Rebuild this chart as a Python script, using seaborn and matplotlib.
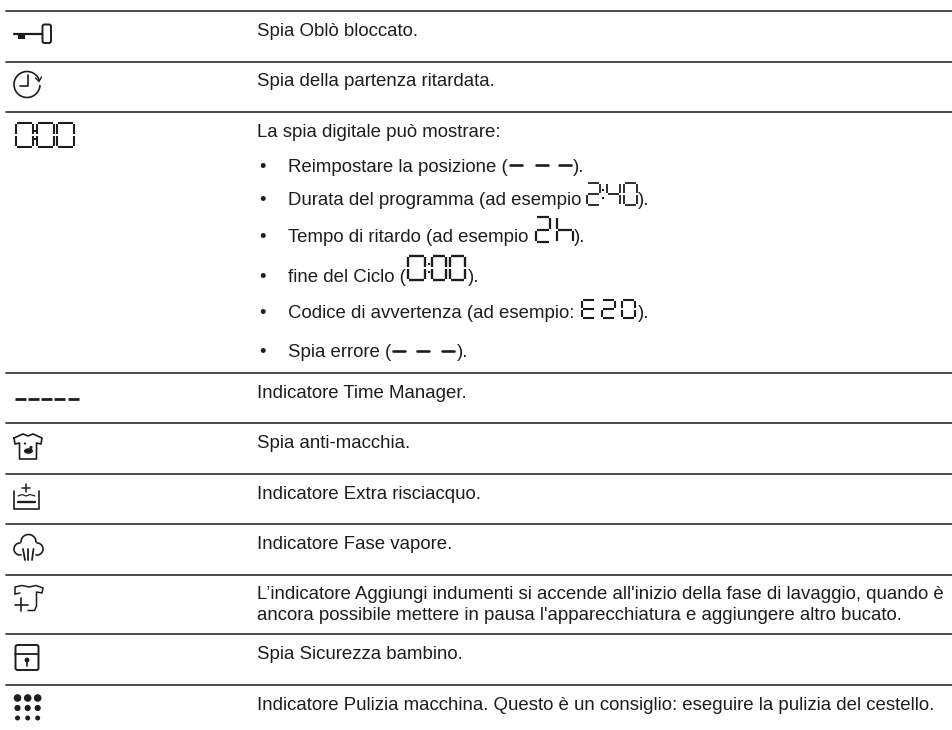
import matplotlib
matplotlib.use('Agg')
import matplotlib.pyplot as plt
from matplotlib.patches import Circle, Ellipse, FancyBboxPatch, Rectangle
import numpy as np
import pandas as pd
import seaborn as sns

# everything is placed in image pixels, the axes run 0..953 and 730..0
WIDTH = 953
HEIGHT = 730
INK = '#1d1d1d'
FONT_SIZE = 13.4

rule_ys = [11, 61.5, 112, 372.7, 423.3, 473.7, 524.3, 575, 634, 685]

row_labels = [
    'Spia Oblò bloccato.',
    'Spia della partenza ritardata.',
    'La spia digitale può mostrare:',
    'Indicatore Time Manager.',
    'Spia anti-macchia.',
    'Indicatore Extra risciacquo.',
    'Indicatore Fase vapore.',
    'L’indicatore Aggiungi indumenti si accende all\'inizio della fase di lavaggio, quando è',
    'ancora possibile mettere in pausa l\'apparecchiatura e aggiungere altro bucato.',
    'Spia Sicurezza bambino.',
    'Indicatore Pulizia macchina. Questo è un consiglio: eseguire la pulizia del cestello.',
]
row_baselines = [36, 86.5, 137, 398, 448, 499, 549, 599, 620, 659, 710]

bullet_labels = [
    'Reimpostare la posizione (',
    'Durata del programma (ad esempio ',
    'Tempo di ritardo (ad esempio ',
    'fine del Ciclo (',
    'Codice di avvertenza (ad esempio: ',
    'Spia errore (',
]
bullet_baselines = [172, 205, 242, 282, 318, 357]
bullet_tail_xs = [573, 638, 574, 468, 638, 457]

SEGMENTS = {
    '0': 'abcdef', '2': 'abged', '4': 'fgbc', 'E': 'afged',
    '-': 'g', 'h': 'fegc',
}


def digit(ax, x, y, w, h, char, lw=1.3, gap=1.0):
    # seven segment glyph with top left corner at x, y, small gaps at the corners
    ends = {
        'a': ((x + gap, y), (x + w - gap, y)),
        'b': ((x + w, y + gap), (x + w, y + h / 2 - gap)),
        'c': ((x + w, y + h / 2 + gap), (x + w, y + h - gap)),
        'd': ((x + gap, y + h), (x + w - gap, y + h)),
        'e': ((x, y + h / 2 + gap), (x, y + h - gap)),
        'f': ((x, y + gap), (x, y + h / 2 - gap)),
        'g': ((x + gap, y + h / 2), (x + w - gap, y + h / 2)),
    }
    for seg in SEGMENTS[char]:
        p, q = ends[seg]
        ax.plot([p[0], q[0]], [p[1], q[1]], color=INK, lw=lw, solid_capstyle='butt')


def colon(ax, x, y, h, lw=1.3):
    for f in (0.32, 0.68):
        ax.plot([x], [y + h * f], 's', color=INK, ms=lw * 1.4, mew=0)


def dashes(ax, lefts, w, y, lw=1.9, cap='round'):
    for left in lefts:
        ax.plot([left, left + w], [y, y], color=INK, lw=lw, solid_capstyle=cap)


def path(ax, pts, lw=1.2, closed=False):
    xs, ys = zip(*(list(pts) + ([pts[0]] if closed else [])))
    ax.plot(xs, ys, color=INK, lw=lw, solid_capstyle='round', solid_joinstyle='round')


def arc(ax, cx, cy, r, a0, a1, lw=1.2):
    # angles in degrees as seen on screen, counter clockwise from the right
    t = np.radians(np.linspace(a0, a1, 60))
    ax.plot(cx + r * np.cos(t), cy - r * np.sin(t), color=INK, lw=lw, solid_capstyle='round')


sns.set_theme(style='white', rc={'axes.facecolor': 'white', 'figure.facecolor': 'white'})
plt.rcParams['font.family'] = ['Liberation Sans', 'DejaVu Sans']

fig = plt.figure(figsize=(WIDTH / 100, HEIGHT / 100), dpi=100)
ax = fig.add_axes([0, 0, 1, 1])

rules = pd.DataFrame({
    'x': [6, 953] * len(rule_ys),
    'y': np.repeat(rule_ys, 2),
    'rule': np.repeat(np.arange(len(rule_ys)), 2),
})
sns.lineplot(data=rules, x='x', y='y', units='rule', estimator=None,
             color='#2e2e2e', lw=1.2, ax=ax, legend=False)

for label, y in zip(row_labels, row_baselines):
    ax.text(257, y, label, fontsize=FONT_SIZE, color=INK, va='baseline', ha='left')
for label, y, tail in zip(bullet_labels, bullet_baselines, bullet_tail_xs):
    ax.text(259, y, '•', fontsize=FONT_SIZE, color=INK, va='baseline', ha='left')
    ax.text(288, y, label, fontsize=FONT_SIZE, color=INK, va='baseline', ha='left')
    ax.text(tail, y, ').', fontsize=FONT_SIZE, color=INK, va='baseline', ha='left')

# key
ax.add_patch(FancyBboxPatch((42.5, 24.5), 8.5, 18.5, boxstyle='round,pad=0,rounding_size=2',
                            fc='none', ec=INK, lw=1.4))
path(ax, [(14, 33.5), (42, 33.5)], lw=1.6)
ax.add_patch(Rectangle((18, 33), 7, 6, fc=INK, ec='none'))

# clock
arc(ax, 27, 84.5, 13, -5, -340)
path(ax, [(28, 75), (28, 86), (20, 86)], lw=1.2)
path(ax, [(35.5, 78), (39, 81.5), (41.5, 77)], lw=1.0)

# digital display icon
for x, ch in zip([16, 37, 57], '000'):
    digit(ax, x, 123, 17, 24, ch, lw=1.5)
colon(ax, 35, 123, 24, lw=1.3)

# time manager
dashes(ax, [15, 28, 41, 54, 68], 11, 398.5, lw=2.0, cap='butt')

# stain shirt
path(ax, [(14, 438), (23, 434), (28, 436), (33, 434), (42, 438), (41, 444), (36.5, 443),
          (36.5, 459), (19.5, 459), (19.5, 443), (15, 444)], closed=True, lw=1.2)
ax.add_patch(Ellipse((28.5, 451), 9, 5.5, fc=INK, ec='none'))
ax.add_patch(Circle((31, 447.5), 1.6, fc=INK, ec='none'))
ax.add_patch(Circle((25, 443.5), 1.1, fc=INK, ec='none'))

# extra rinse
path(ax, [(14.5, 491), (14.5, 509), (39, 509), (39, 491)], lw=1.2)
path(ax, [(22, 488), (30, 488)], lw=1.1)
path(ax, [(26, 484), (26, 492)], lw=1.1)
path(ax, [(18, 496), (22, 494.5), (26, 496), (30, 494.5), (35, 496)], lw=0.9)
path(ax, [(18, 502), (35, 502)], lw=1.7)

# steam
arc(ax, 28.5, 542, 7.5, 180, 0, lw=1.2)
arc(ax, 20, 549, 6, 90, 280, lw=1.2)
arc(ax, 37, 549, 6, 90, -100, lw=1.2)
for top, bottom in [((23, 549), (25, 560)), ((28.5, 549), (28.5, 560)), ((33.5, 549), (32, 560))]:
    path(ax, [top, bottom], lw=1.3)

# add clothes
path(ax, [(15, 594), (15, 587), (22, 585.5), (29, 587), (36, 585.5), (43, 588), (42, 593), (36.5, 592),
          (36.5, 606), (34.5, 610.5), (28, 610.5)], lw=1.1)
path(ax, [(15, 594), (20, 593)], lw=1.1)
path(ax, [(15, 604.5), (28, 604.5)], lw=1.2)
path(ax, [(21.5, 598), (21.5, 611)], lw=1.2)

# child lock
ax.add_patch(FancyBboxPatch((15.5, 645), 23, 25, boxstyle='round,pad=0,rounding_size=2',
                            fc='none', ec=INK, lw=1.4))
path(ax, [(15.5, 653.5), (38.5, 653.5)], lw=1.3)
ax.add_patch(Circle((27, 660), 2.4, fc=INK, ec='none'))
path(ax, [(27, 660), (27, 665.5)], lw=1.2)

# cleaning dots
dot_xs = [17.5, 27.7, 37.7] * 3
dot_ys = np.repeat([698, 708, 718], 3)
dot_sizes = np.repeat([30, 20, 13], 3)
sns.scatterplot(x=dot_xs, y=dot_ys, s=dot_sizes, color=INK, linewidth=0, ax=ax, legend=False)

# inline display glyphs
dashes(ax, [510, 536, 559], 12, 164.5)
digit(ax, 587, 183, 13, 22, '2', lw=1.3)
colon(ax, 603, 183, 22, lw=1.2)
digit(ax, 607, 183, 13, 22, '4', lw=1.3)
digit(ax, 624, 183, 13, 22, '0', lw=1.3)
digit(ax, 536, 217, 14, 25, '2', lw=1.6)
digit(ax, 557, 217, 16, 25, 'h', lw=1.6)
digit(ax, 408, 256, 17, 24, '0', lw=1.7)
colon(ax, 429, 256, 24, lw=1.5)
digit(ax, 432, 256, 14, 24, '0', lw=1.7)
digit(ax, 450, 256, 15, 24, '0', lw=1.7)
for x, ch in zip([582, 602, 622], 'E20'):
    digit(ax, x, 300, 13, 18, ch, lw=1.5)
dashes(ax, [393, 417, 442], 12, 351)

ax.set(xlim=(0, WIDTH), ylim=(HEIGHT, 0), xlabel='', ylabel='')
ax.axis('off')
fig.savefig('out.png', dpi=100)
